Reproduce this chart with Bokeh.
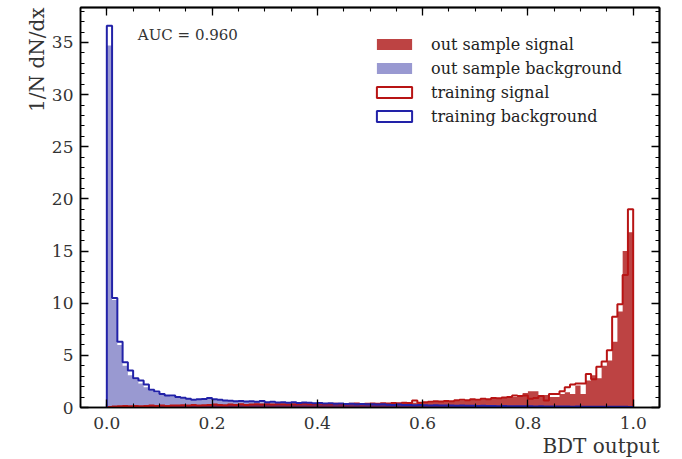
import numpy as np
from bokeh.plotting import figure
from bokeh.models import (ColumnDataSource, Range1d, LinearAxis, Legend, LegendItem,
                          Label, FixedTicker, PrintfTickFormatter, Title)
from bokeh.embed import file_html
from bokeh.resources import INLINE

# ---------------- data (100 bins on [0, 1]) ----------------
n_bins = 100
bin_lo, bin_hi = 0.0, 1.0

bkg_train = [36.6, 10.5, 6.3, 4.35, 3.55, 2.8, 2.6, 2.2, 1.7, 1.53,
             1.3, 1.15, 1.15, 1.0, 0.93, 0.83, 0.75, 0.8, 0.82, 0.9,
             0.8, 0.75, 0.68, 0.65, 0.6, 0.62, 0.58, 0.6, 0.55, 0.62,
             0.5, 0.55, 0.48, 0.5, 0.45, 0.5, 0.42, 0.48, 0.45, 0.4,
             0.42, 0.38, 0.4, 0.35, 0.38, 0.33, 0.35, 0.3, 0.34, 0.3,
             0.32, 0.28, 0.3, 0.27, 0.25, 0.28, 0.24, 0.25, 0.22, 0.24,
             0.22, 0.2, 0.22, 0.2, 0.18, 0.2, 0.17, 0.18, 0.16, 0.17,
             0.15, 0.16, 0.14, 0.15, 0.13, 0.14, 0.12, 0.13, 0.12, 0.11,
             0.12, 0.1, 0.11, 0.1, 0.1, 0.09, 0.1, 0.09, 0.08, 0.09,
             0.08, 0.08, 0.07, 0.08, 0.07, 0.06, 0.07, 0.06, 0.06, 0.05]

bkg_out = [34.7, 10.3, 6.0, 4.0, 3.1, 2.7, 2.3, 1.95, 1.6, 1.4,
           1.25, 1.1, 1.05, 0.95, 0.88, 0.85, 0.7, 0.78, 0.75, 0.85,
           0.72, 0.7, 0.65, 0.6, 0.58, 0.55, 0.6, 0.52, 0.55, 0.5,
           0.48, 0.5, 0.45, 0.48, 0.42, 0.45, 0.4, 0.43, 0.4, 0.38,
           0.4, 0.35, 0.38, 0.33, 0.35, 0.3, 0.33, 0.3, 0.3, 0.28,
           0.3, 0.27, 0.28, 0.25, 0.26, 0.24, 0.25, 0.22, 0.23, 0.22,
           0.2, 0.21, 0.19, 0.2, 0.17, 0.18, 0.16, 0.17, 0.15, 0.16,
           0.14, 0.15, 0.13, 0.14, 0.12, 0.13, 0.12, 0.12, 0.11, 0.11,
           0.1, 0.11, 0.1, 0.09, 0.1, 0.09, 0.08, 0.09, 0.08, 0.08,
           0.07, 0.08, 0.07, 0.07, 0.06, 0.06, 0.06, 0.05, 0.05, 0.05]

sig_train = [0.05, 0.1, 0.12, 0.15, 0.12, 0.15, 0.12, 0.15, 0.18, 0.15,
             0.18, 0.15, 0.2, 0.18, 0.22, 0.2, 0.25, 0.2, 0.22, 0.25,
             0.28, 0.25, 0.22, 0.28, 0.25, 0.3, 0.25, 0.28, 0.3, 0.28,
             0.3, 0.28, 0.32, 0.3, 0.28, 0.32, 0.3, 0.35, 0.3, 0.32,
             0.35, 0.3, 0.32, 0.35, 0.3, 0.32, 0.35, 0.38, 0.32, 0.35,
             0.38, 0.35, 0.4, 0.38, 0.42, 0.4, 0.45, 0.42, 0.67, 0.45,
             0.5, 0.55, 0.6, 0.58, 0.62, 0.6, 0.7, 0.75, 0.7, 0.78,
             0.75, 0.85, 0.8, 0.9, 0.88, 0.95, 1.0, 1.15, 1.1, 1.15,
             0.83, 0.9, 1.1, 0.67, 1.3, 1.3, 1.56, 1.95, 2.2, 2.3,
             2.3, 3.2, 2.7, 3.9, 4.4, 5.5, 8.7, 9.9, 12.7, 19.0]

sig_out = [0.05, 0.08, 0.1, 0.12, 0.1, 0.12, 0.1, 0.12, 0.15, 0.12,
           0.15, 0.12, 0.18, 0.15, 0.2, 0.18, 0.22, 0.2, 0.2, 0.22,
           0.25, 0.22, 0.2, 0.25, 0.22, 0.28, 0.22, 0.25, 0.28, 0.25,
           0.28, 0.25, 0.3, 0.28, 0.25, 0.3, 0.28, 0.32, 0.28, 0.3,
           0.32, 0.28, 0.3, 0.32, 0.28, 0.3, 0.32, 0.35, 0.3, 0.32,
           0.35, 0.32, 0.38, 0.35, 0.4, 0.38, 0.42, 0.4, 0.45, 0.42,
           0.48, 0.5, 0.55, 0.52, 0.58, 0.55, 0.62, 0.68, 0.65, 0.72,
           0.7, 0.78, 0.75, 0.85, 0.82, 0.9, 0.95, 1.0, 1.05, 1.4,
           1.56, 1.56, 1.2, 1.2, 1.0, 1.0, 1.3, 1.47, 1.3, 2.1,
           1.3, 2.6, 3.1, 2.8, 4.0, 4.5, 6.3, 9.2, 15.0, 16.8]

x_ticks = [0.0, 0.2, 0.4, 0.6, 0.8, 1.0]
y_ticks = [0, 5, 10, 15, 20, 25, 30, 35]
auc_text = "AUC = 0.960"
x_label = "BDT output"
y_label = "1/N dN/dx"
legend_labels = ["out sample signal", "out sample background",
                 "training signal", "training background"]

# ---------------- styling ----------------
FONT = "DejaVu Serif"
SIG_FILL = "#b22222"
BKG_FILL = "#00008b"
SIG_LINE = "#b81414"
BKG_LINE = "#2222a8"
TXT = "#333333"

edges = np.linspace(bin_lo, bin_hi, n_bins + 1)


def step_xy(vals):
    xs, ys = [edges[0]], [0.0]
    for i, v in enumerate(vals):
        xs += [edges[i], edges[i + 1]]
        ys += [v, v]
    xs.append(edges[-1])
    ys.append(0.0)
    return xs, ys


p = figure(width=675, height=457, output_backend="svg", toolbar_location=None,
           x_range=Range1d(-0.05, 1.05), y_range=Range1d(0, 38.35),
           min_border_left=80, min_border_right=16, min_border_top=7,
           min_border_bottom=50)
p.xgrid.visible = False
p.ygrid.visible = False
p.outline_line_color = "black"
p.outline_line_width = 1.5
p.background_fill_color = "white"
p.border_fill_color = "white"

# filled (out-of-sample) histograms as continuous step polygons
sfx, sfy = step_xy(sig_out)
bfx, bfy = step_xy(bkg_out)
r_sig = p.patch(sfx, sfy, fill_color=SIG_FILL, fill_alpha=0.85, line_color=None)
r_bkg = p.patch(bfx, bfy, fill_color=BKG_FILL, fill_alpha=0.4, line_color=None)

# training histograms as step outlines
sx, sy = step_xy(sig_train)
bx, by = step_xy(bkg_train)
p.line(sx, sy, line_color=SIG_LINE, line_width=2)
p.line(bx, by, line_color=BKG_LINE, line_width=2)

# legend proxies for the step histograms (a single NaN row: nothing drawn in the plot)
nan_row = dict(left=[np.nan], right=[np.nan], top=[np.nan], bottom=[np.nan])
r_sig_leg = p.quad(left="left", right="right", top="top", bottom="bottom",
                   source=ColumnDataSource(dict(nan_row)), fill_color="white",
                   line_color=SIG_LINE, line_width=2)
r_bkg_leg = p.quad(left="left", right="right", top="top", bottom="bottom",
                   source=ColumnDataSource(dict(nan_row)), fill_color="white",
                   line_color=BKG_LINE, line_width=2)

legend = Legend(items=[LegendItem(label=legend_labels[0], renderers=[r_sig]),
                       LegendItem(label=legend_labels[1], renderers=[r_bkg]),
                       LegendItem(label=legend_labels[2], renderers=[r_sig_leg], index=0),
                       LegendItem(label=legend_labels[3], renderers=[r_bkg_leg], index=0)],
                location=(292, 281), orientation="vertical",
                glyph_width=44, glyph_height=14, label_standoff=15,
                label_height=20, spacing=4, padding=0, margin=0,
                border_line_color=None, background_fill_alpha=0,
                label_text_font=FONT, label_text_font_size="16px",
                label_text_color="#222222")
p.add_layout(legend)

# axes
minor_x = [round(-0.05 + 0.05 * k, 2) for k in range(23)]
minor_y = list(range(0, 39))


def style_axis(ax):
    ax.major_tick_in = 8
    ax.major_tick_out = 0
    ax.minor_tick_in = 4
    ax.minor_tick_out = 0
    ax.major_tick_line_width = 1.3
    ax.minor_tick_line_width = 1.1
    ax.major_tick_line_color = "black"
    ax.minor_tick_line_color = "black"
    ax.axis_line_color = "black"
    ax.axis_line_width = 1.5
    ax.major_label_text_font = FONT
    ax.major_label_text_color = TXT
    ax.major_label_text_font_size = "17px"


xa = p.xaxis[0]
xa.ticker = FixedTicker(ticks=x_ticks, minor_ticks=minor_x)
xa.formatter = PrintfTickFormatter(format="%.1f")
style_axis(xa)
xa.major_label_standoff = 9
ya = p.yaxis[0]
ya.ticker = FixedTicker(ticks=y_ticks, minor_ticks=minor_y)
style_axis(ya)
ya.major_label_standoff = 7

# top / right ticks: label-free axes (ticks only supplied as minor ticks)
for place, majors, minors in (("above", x_ticks, minor_x), ("right", y_ticks, minor_y)):
    for tick_list, length in ((minors, 4), (majors, 8)):
        ax = LinearAxis(ticker=FixedTicker(ticks=[], minor_ticks=tick_list))
        ax.minor_tick_in = length
        ax.minor_tick_out = 0
        ax.minor_tick_line_width = 1.3 if length == 8 else 1.1
        ax.minor_tick_line_color = "black"
        ax.major_tick_line_color = None
        ax.axis_line_color = "black"
        ax.axis_line_width = 1.5
        ax.major_label_standoff = 0
        p.add_layout(ax, place)

# axis titles
p.add_layout(Title(text=x_label, align="right", text_font=FONT, text_font_size="20px",
                   text_font_style="normal", text_color=TXT, standoff=0), "below")
p.add_layout(Title(text=y_label, align="right", text_font=FONT, text_font_size="20px",
                   text_font_style="normal", text_color=TXT, standoff=0), "left")

p.add_layout(Label(x=0.059, y=35.7, text=auc_text, text_font=FONT,
                   text_font_size="15px", text_color=TXT,
                   text_align="left", text_baseline="middle"))

open("out.html", "w").write(file_html(p, INLINE))
